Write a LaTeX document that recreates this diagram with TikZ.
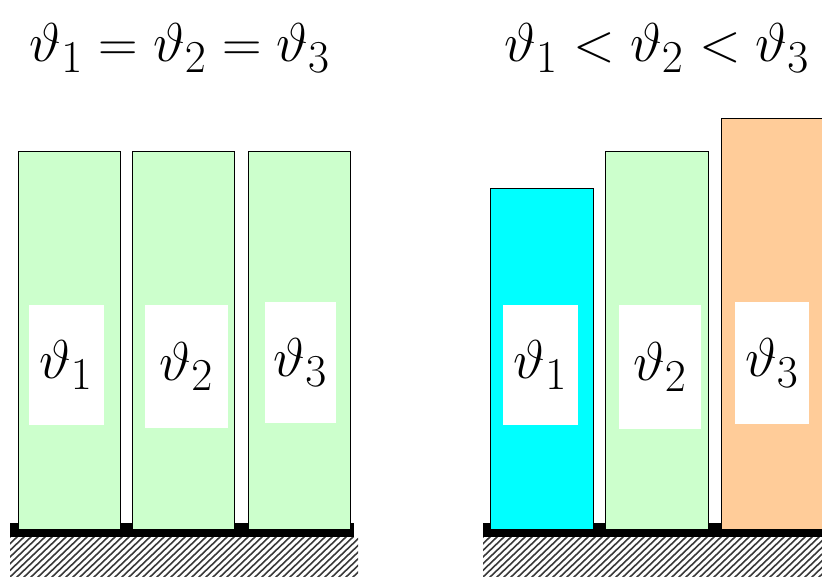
\documentclass[tikz,border=0pt]{standalone}
\usepackage{graphicx}
\usetikzlibrary{calc}
\definecolor{bargreen}{HTML}{CCFFCC}
\definecolor{barcyan}{HTML}{00FFFF}
\definecolor{barorange}{HTML}{FFCC99}
\definecolor{hatchgray}{HTML}{3A3A3A}
\newcommand{\bigtheta}[1]{\scalebox{2.2}{\Huge$#1$}}

\begin{document}
\begin{tikzpicture}[x=1pt,y=-1pt,line join=miter,
    bar/.style={draw=black,line width=0.9pt},
    tag/.style={fill=white,inner sep=0pt,minimum width=75pt,minimum height=120pt},
    title/.style={inner sep=0pt},
    hatch/.style={hatchgray,line width=1.6pt}]
  \useasboundingbox (0,0) rectangle (822,577);

  % ---- titles ----
  \node[title] (eqtitle) at (180,48) {\bigtheta{\vartheta_1=\vartheta_2=\vartheta_3}};
  \node[title] (lttitle) at (657,48) {\bigtheta{\vartheta_1<\vartheta_2<\vartheta_3}};

  % ---- ground: black plate and hatching ----
  \foreach \gx/\gw in {10/348,483/345}{
    \fill[black] (\gx,523) rectangle (\gx+\gw-4,537);
    \begin{scope}
      \clip (\gx,537) rectangle (\gx+\gw,577);
      \foreach \i in {-50,-43,...,400}{
        \draw[hatch] (\gx+\i,578) -- (\gx+\i+44,536);
      }
    \end{scope}
  }

  % ---- left group: equal temperatures ----
  \foreach \bx/\by/\c/\n in {18/151/bargreen/1,132/151/bargreen/2,248/151/bargreen/3}{
    \filldraw[bar,fill=\c] (\bx,\by) rectangle (\bx+102,529);
  }
  \node[tag] (la) at (66,365) {\bigtheta{\vartheta_1}};
  \node[tag,minimum width=83pt,minimum height=123pt] (lb) at (186.5,366.5) {\bigtheta{\vartheta_2}};
  \node[tag,minimum width=71pt] (lc) at (300.5,362.5) {\bigtheta{\vartheta_3}};

  % ---- right group: rising temperatures ----
  \foreach \bx/\by/\c in {490/188/barcyan,605/151/bargreen,721/118/barorange}{
    \filldraw[bar,fill=\c] (\bx,\by) rectangle (\bx+103,529);
  }
  \node[tag] (ra) at (540.5,365) {\bigtheta{\vartheta_1}};
  \node[tag,minimum width=82pt,minimum height=124pt] (rb) at (660,367) {\bigtheta{\vartheta_2}};
  \node[tag,minimum width=74pt,minimum height=122pt] (rc) at (772,363) {\bigtheta{\vartheta_3}};
\end{tikzpicture}
\end{document}
